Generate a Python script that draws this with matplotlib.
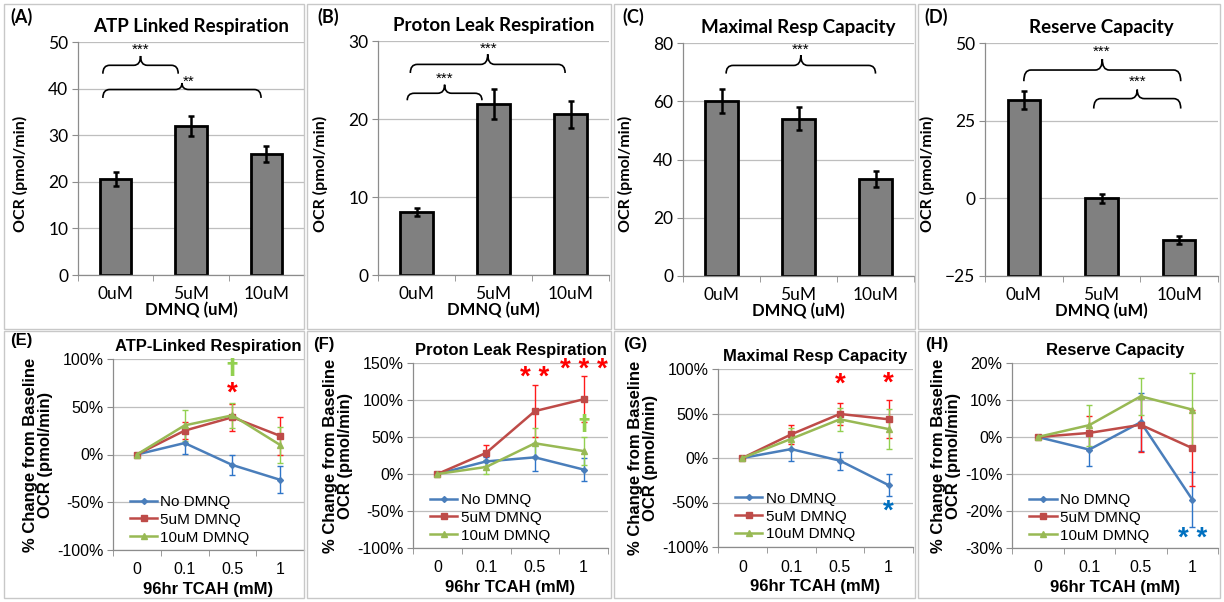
import numpy as np
import matplotlib
matplotlib.use("Agg")
import matplotlib.pyplot as plt
from matplotlib.path import Path
from matplotlib.patches import PathPatch, Rectangle

W, H = 1224, 602

# ---------------- data ----------------
bar_cats = ["0uM", "5uM", "10uM"]
atp_vals = [20.5, 32.0, 26.0]
atp_err = [1.5, 2.2, 1.7]
leak_vals = [8.1, 21.9, 20.6]
leak_err = [0.5, 1.9, 1.7]
max_vals = [60.0, 54.0, 33.3]
max_err = [4.2, 4.0, 2.7]
res_vals = [31.7, 0.0, -13.3]
res_err = [2.8, 1.5, 1.3]

line_cats = ["0", "0.1", "0.5", "1"]
series_names = ["No DMNQ", "5uM DMNQ", "10uM DMNQ"]

e_no = [0, 12, -11, -26.5]
e_no_err = [0, 11, 10, 14]
e_5 = [0, 25, 39, 19.5]
e_5_err = [0, 9, 14, 20]
e_10 = [0, 30.5, 41, 10]
e_10_err = [0, 16, 13, 19]

f_no = [0, 17, 22.5, 6]
f_no_err = [0, 6, 19, 16]
f_5 = [0, 28.5, 85, 101]
f_5_err = [0, 11, 35, 31]
f_10 = [0, 9.5, 41.5, 31]
f_10_err = [0, 9, 20, 19]

g_no = [0, 10, -3, -30.5]
g_no_err = [0, 13, 10, 12.5]
g_5 = [0, 26.5, 49.5, 43.5]
g_5_err = [0, 11, 12, 21.5]
g_10 = [0, 21.5, 43.5, 32.5]
g_10_err = [0, 12, 13, 22]

h_no = [0, -3.4, 4.0, -16.9]
h_no_err = [0, 4.4, 7.8, 7.5]
h_5 = [0, 1.1, 3.3, -3.0]
h_5_err = [0, 4.6, 7.3, 10.2]
h_10 = [0, 3.2, 11.0, 7.4]
h_10_err = [0, 5.5, 5.0, 10.0]

# ---------------- style ----------------
CAL = ["Lato", "DejaVu Sans"]
ARI = ["Liberation Sans", "DejaVu Sans"]
GRID = "#BEBEBE"
SPINE = "#8C8C8C"
LINE_COLORS = ["#4A7EBB", "#BE4B48", "#98B954"]
ERR_COLORS = ["#2E75C8", "#FF1A1A", "#92D050"]
MARKERS = ["D", "s", "^"]
MSIZES = [3, 5, 5]

fig = plt.figure(figsize=(W / 100, H / 100), dpi=100)


def rect(l, r, t, b):
    return [l / W, 1 - b / H, (r - l) / W, (b - t) / H]


# panel borders
for (l, r) in [(4, 304), (307, 611), (614, 915), (918, 1220)]:
    for (t, b) in [(4, 329), (331, 598)]:
        fig.add_artist(Rectangle((l / W, 1 - b / H), (r - l) / W, (b - t) / H,
                                 transform=fig.transFigure, fill=False,
                                 edgecolor="#C8C8C8", lw=1.0))


def style_axes(ax):
    for s in ["top", "right"]:
        ax.spines[s].set_visible(False)
    for s in ["left", "bottom"]:
        ax.spines[s].set_color(SPINE)
        ax.spines[s].set_linewidth(0.9)
    ax.yaxis.grid(True, color=GRID, lw=0.9)
    ax.set_axisbelow(True)
    ax.tick_params(axis="y", direction="out", length=4, color=SPINE, pad=3)
    ax.tick_params(axis="x", which="major", length=0, pad=6)
    ax.tick_params(axis="x", which="minor", direction="out", length=4, color=SPINE)


def brace(ax, x0, x1, ybot, yline, ytip, r=0.09):
    xm = (x0 + x1) / 2
    verts = [(x0, ybot), (x0, yline), (x0 + r, yline),
             (xm - r, yline), (xm, yline), (xm, ytip),
             (xm, yline), (xm + r, yline),
             (x1 - r, yline), (x1, yline), (x1, ybot)]
    codes = [Path.MOVETO, Path.CURVE3, Path.CURVE3,
             Path.LINETO, Path.CURVE3, Path.CURVE3,
             Path.CURVE3, Path.CURVE3,
             Path.LINETO, Path.CURVE3, Path.CURVE3]
    ax.add_patch(PathPatch(Path(verts, codes), fill=False, lw=1.2,
                           edgecolor="black", clip_on=False))


def bar_panel(pos, vals, errs, ylim, yticks, title, letter, lpos, base=0):
    ax = fig.add_axes(rect(*pos))
    x = np.arange(len(bar_cats))
    ax.bar(x, np.array(vals) - base, bottom=base, width=0.42, color="#808080",
           edgecolor="black", lw=2.0, zorder=2)
    ax.errorbar(x, vals, yerr=errs, fmt="none", ecolor="black", elinewidth=1.8,
                capsize=2, capthick=1.8, zorder=3)
    ax.set_xlim(-0.5, 2.5)
    ax.set_ylim(*ylim)
    ax.set_yticks(yticks)
    ax.set_xticks(x)
    ax.set_xticklabels(bar_cats)
    ax.set_xticks([-0.5, 0.5, 1.5, 2.5], minor=True)
    style_axes(ax)
    ax.tick_params(axis="x", which="major", pad=8)
    for lab in ax.get_xticklabels() + ax.get_yticklabels():
        lab.set_fontfamily(CAL)
        lab.set_fontsize(12.5)
    ax.set_xlabel("DMNQ (uM)", fontfamily=CAL, fontweight="bold", fontsize=12, labelpad=0)
    ax.set_ylabel("OCR (pmol/min)", fontfamily=CAL, fontweight="bold", fontsize=11.5)
    l, r, t, b = pos
    ax.yaxis.set_label_coords(-50 / (r - l), (b - 174) / (b - t))
    ax.set_title(title, fontfamily=CAL, fontweight="bold", fontsize=13.5, pad=7)
    fig.text(lpos[0] / W, 1 - lpos[1] / H, letter, fontfamily=CAL, fontweight="bold",
             fontsize=13, va="center", ha="left")
    return ax


def stars(ax, x, y, s):
    ax.text(x, y, s, ha="center", va="center", fontsize=11, fontfamily=ARI, clip_on=False)


# (A)
ax = bar_panel((78, 304, 42, 275), atp_vals, atp_err, (0, 50), [0, 10, 20, 30, 40, 50],
               "ATP Linked Respiration", "(A)", (10, 17))
brace(ax, -0.17, 0.83, 43.2, 45.0, 47.0)
stars(ax, 0.33, 48.3, "***")
brace(ax, -0.17, 1.93, 38.0, 39.8, 41.2)
stars(ax, 0.97, 41.5, "**")

# (B)
ax = bar_panel((378, 609, 41, 275), leak_vals, leak_err, (0, 30), [0, 10, 20, 30],
               "Proton Leak Respiration", "(B)", (317, 17))
brace(ax, -0.12, 0.85, 22.4, 23.3, 24.4)
stars(ax, 0.37, 25.2, "***")
brace(ax, -0.08, 1.93, 25.9, 27.0, 28.3)
stars(ax, 0.93, 29.0, "***")

# (C)
ax = bar_panel((683, 914, 43, 276), max_vals, max_err, (0, 80), [0, 20, 40, 60, 80],
               "Maximal Resp Capacity", "(C)", (622, 17))
brace(ax, 0.06, 2.0, 69.5, 72.3, 75.8)
stars(ax, 1.03, 77.8, "***")

# (D)
ax = bar_panel((985, 1218, 43, 276), res_vals, res_err, (-25, 50), [-25, 0, 25, 50],
               "Reserve Capacity", "(D)", (924, 17), base=-25)
brace(ax, 0.0, 2.02, 37.7, 41.3, 44.8)
stars(ax, 1.0, 47.3, "***")
brace(ax, 0.9, 2.02, 28.9, 32.1, 35.0)
stars(ax, 1.46, 37.5, "***")


def line_panel(pos, data, ylim, yticks, title, letter, lpos, annots):
    ax = fig.add_axes(rect(*pos))
    x = np.arange(len(line_cats))
    handles = []
    for i, (v, e) in enumerate(data):
        ax.errorbar(x, v, yerr=e, fmt="none", ecolor=ERR_COLORS[i], elinewidth=1.0,
                    capsize=2, capthick=1.0, zorder=2 + i)
        h, = ax.plot(x, v, color=LINE_COLORS[i], lw=1.8, marker=MARKERS[i],
                     ms=MSIZES[i], zorder=5 + i, label=series_names[i])
        handles.append(h)
    ax.set_xlim(-0.5, 3.5)
    ax.set_ylim(*ylim)
    ax.set_yticks(yticks)
    ax.set_yticklabels([f"{t}%" for t in yticks])
    ax.set_xticks(x)
    ax.set_xticklabels(line_cats)
    ax.set_xticks([-0.5, 0.5, 1.5, 2.5, 3.5], minor=True)
    style_axes(ax)
    for lab in ax.get_xticklabels() + ax.get_yticklabels():
        lab.set_fontfamily(ARI)
        lab.set_fontsize(11.5)
    ax.tick_params(axis="x", which="major", pad=9)
    ax.set_xlabel("96hr TCAH (mM)", fontfamily=ARI, fontweight="bold", fontsize=12, labelpad=3)
    ax.set_ylabel("% Change from Baseline\nOCR (pmol/min)", fontfamily=ARI,
                  fontweight="bold", fontsize=12, labelpad=3, linespacing=1.0)
    ax.set_title(title, fontfamily=ARI, fontweight="bold", fontsize=12, pad=6)
    fig.text(lpos[0] / W, 1 - lpos[1] / H, letter, fontfamily=ARI, fontweight="bold",
             fontsize=12, va="center", ha="left")
    ax.legend(handles=handles, loc="lower left", bbox_to_anchor=(0.04, -0.02),
              frameon=False, prop={"family": ARI, "size": 11},
              handlelength=1.8, handletextpad=0.2, labelspacing=0.25,
              borderaxespad=0.2)
    for (xx, yy, s, c, fs, fam) in annots:
        ax.text(xx, yy, s, ha="center", va="center", color=c, fontsize=fs,
                fontfamily=fam, fontweight="bold", clip_on=False)
    return ax


RED = "#FF0000"
GRN = "#92D050"
BLU = "#0070C0"
DJ = ["DejaVu Sans"]

line_panel((113, 304, 359, 550), [(e_no, e_no_err), (e_5, e_5_err), (e_10, e_10_err)],
           (-100, 100), [-100, -50, 0, 50, 100], "ATP-Linked Respiration", "(E)", (10, 341),
           [(2, 91, "\u2020", GRN, 16, DJ), (2, 64, "*", RED, 20, ARI)])

line_panel((413, 608, 363, 548), [(f_no, f_no_err), (f_5, f_5_err), (f_10, f_10_err)],
           (-100, 150), [-100, -50, 0, 50, 100, 150], "Proton Leak Respiration", "(F)",
           (313, 344),
           [(2, 130, "* *", RED, 20, ARI), (3, 140, "* * *", RED, 20, ARI),
            (3, 67, "\u2020", GRN, 16, DJ)])

line_panel((718, 913, 369, 547), [(g_no, g_no_err), (g_5, g_5_err), (g_10, g_10_err)],
           (-100, 100), [-100, -50, 0, 50, 100], "Maximal Resp Capacity", "(G)", (623, 344),
           [(2, 82, "*", RED, 20, ARI), (3, 84, "*", RED, 20, ARI),
            (3, -60, "*", BLU, 20, ARI)])

line_panel((1012, 1218, 363, 548), [(h_no, h_no_err), (h_5, h_5_err), (h_10, h_10_err)],
           (-30, 20), [-30, -20, -10, 0, 10, 20], "Reserve Capacity", "(H)", (925, 344),
           [(3, -27.5, "* *", BLU, 20, ARI)])

fig.savefig("out.png", dpi=100)
